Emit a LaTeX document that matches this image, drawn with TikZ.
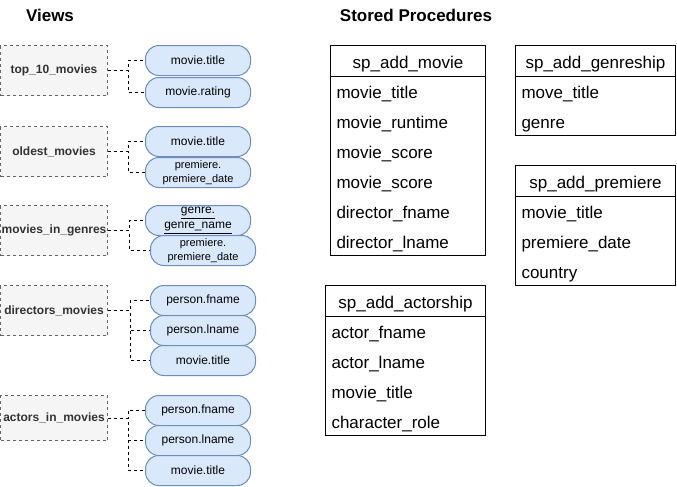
\documentclass[tikz,border=0pt]{standalone}
\usepackage{fontspec}
\setmainfont{Liberation Sans}
\usetikzlibrary{matrix}
\definecolor{viewfill}{HTML}{F5F5F5}
\definecolor{viewline}{HTML}{666666}
\definecolor{viewtext}{HTML}{333333}
\definecolor{attrfill}{HTML}{DAE8FC}
\definecolor{attrline}{HTML}{6C8EBF}
\tikzset{
  view/.style={draw=viewline, fill=viewfill, dash pattern=on 2.25pt off 2.25pt, line width=0.75pt, text=viewtext, font=\fontsize{9}{11}\selectfont\bfseries, minimum width=80.25pt, minimum height=37.5pt, inner sep=0pt, anchor=north west},
  attr/.style={draw=attrline, fill=attrfill, line width=0.75pt, rounded corners=10pt, minimum width=78.75pt, minimum height=22.5pt, inner sep=0pt, align=center, font=\fontsize{9}{11}\selectfont, anchor=north west},
  small/.style={font=\fontsize{8.25}{11}\selectfont},
  link/.style={draw=black, dash pattern=on 2.25pt off 2.25pt, line width=0.75pt},
  proc/.style={matrix of nodes, draw=black, line width=0.75pt, inner sep=0pt, row sep=0pt, anchor=north west, nodes={text width=#1, inner xsep=4.5pt, inner ysep=0pt, text height=17.25pt, text depth=5.25pt, align=left, font=\fontsize{12.75}{15}\selectfont}},
  head/.style={align=center},
  title/.style={font=\fontsize{12.75}{15}\selectfont\bfseries}
}
\begin{document}
\begin{tikzpicture}[x=0.75pt, y=-0.75pt]
  \useasboundingbox (0,0) rectangle (677,486);
  %titles
  \node[title] (viewstitle) at (50,15) {Views};
  \node[title] (proctitle) at (416,15) {Stored Procedures};
  %views
  \node[view] (top10) at (0,45) {top\_10\_movies};
  \node[view] (oldest) at (0,126) {oldest\_movies};
  \node[view] (genres) at (0,205) {movies\_in\_genres};
  \node[view] (directors) at (0,285) {directors\_movies};
  \node[view, minimum height=33.75pt] (actors) at (0,395) {actors\_in\_movies};
  %links
  \draw[link] (top10.east) -- ++(20,0) |- (145,60);
  \draw[link] (top10.east) -- ++(20,0) |- (145,92);
  \draw[link] (oldest.east) -- ++(20,0) |- (145,141);
  \draw[link] (oldest.east) -- ++(20,0) |- (145,172);
  \draw[link] (genres.east) -- ++(21,0) |- (145,220);
  \draw[link] (genres.east) -- ++(21,0) |- (150,250);
  \draw[link] (directors.east) -- ++(22,0) |- (150,300);
  \draw[link] (directors.east) -- ++(22,0) |- (150,330);
  \draw[link] (directors.east) -- ++(22,0) |- (150,360);
  \draw[link] (actors.east) -- ++(20,0) |- (145,410);
  \draw[link] (actors.east) -- ++(20,0) |- (145,440);
  \draw[link] (actors.east) -- ++(20,0) |- (145,470);
  %columns
  \node[attr] (t10title) at (145,45) {movie.title};
  \node[attr] (t10rating) at (145,77) {movie.rating};
  \node[attr] (oldtitle) at (145,126) {movie.title};
  \node[attr, small] (olddate) at (145,157) {premiere.\\premiere\_date};
  \node[attr] (gengenre) at (145,205) {\underline{genre.}\\\underline{genre\_name}};
  \node[attr, small] (gendate) at (150,235) {premiere.\\premiere\_date};
  \node[attr] (dirfname) at (150,285) {person.fname};
  \node[attr] (dirlname) at (150,315) {person.lname};
  \node[attr] (dirtitle) at (150,345) {movie.title};
  \node[attr] (actfname) at (145,395) {person.fname};
  \node[attr] (actlname) at (145,425) {person.lname};
  \node[attr] (acttitle) at (145,455) {movie.title};
  %stored procedures
  \matrix[proc=107.25pt] (movie) at (330,45)
  {
    |[head]| sp\_add\_movie \\
    movie\_title \\
    movie\_runtime \\
    movie\_score \\
    movie\_score \\
    director\_fname \\
    director\_lname \\
  };
  \matrix[proc=111pt] (genreship) at (515,45)
  {
    |[head]| sp\_add\_genreship \\
    move\_title \\
    genre \\
  };
  \matrix[proc=111pt] (premiere) at (515,165)
  {
    |[head]| sp\_add\_premiere \\
    movie\_title \\
    premiere\_date \\
    country \\
  };
  \matrix[proc=111pt] (actorship) at (325,285)
  {
    |[head]| sp\_add\_actorship \\
    actor\_fname \\
    actor\_lname \\
    movie\_title \\
    character\_role \\
  };
  \foreach \t in {movie,genreship,premiere,actorship}
    \draw[line width=0.75pt] (\t-1-1.south west) -- (\t-1-1.south east);
\end{tikzpicture}
\end{document}
